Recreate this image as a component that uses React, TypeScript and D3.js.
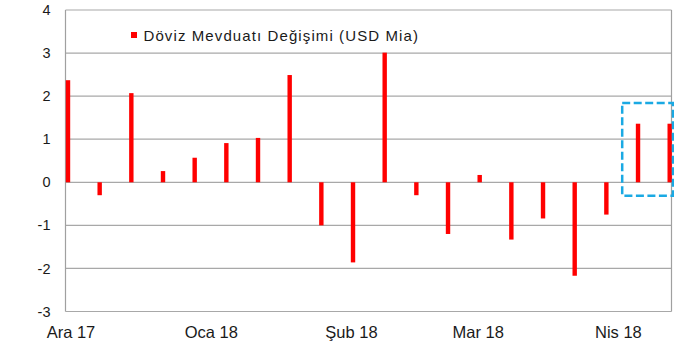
// @ts-nocheck
import React, { useRef, useEffect } from 'react';
import * as d3 from 'd3';

// weekly FX deposit change, USD bn
const weeks = [
  '2017-12-01', '2017-12-08', '2017-12-15', '2017-12-22', '2017-12-29',
  '2018-01-05', '2018-01-12', '2018-01-19', '2018-01-26', '2018-02-02',
  '2018-02-09', '2018-02-16', '2018-02-23', '2018-03-02', '2018-03-09',
  '2018-03-16', '2018-03-23', '2018-03-30', '2018-04-06', '2018-04-13',
];
const values = [
  2.37, -0.3, 2.07, 0.26, 0.57,
  0.91, 1.03, 2.49, -1.0, -1.86,
  3.01, -0.3, -1.2, 0.17, -1.33,
  -0.84, -2.17, -0.75, 1.36, 1.36,
];
const monthTicks = ['2017-12-01', '2018-01-01', '2018-02-01', '2018-03-01', '2018-04-01'];
const monthLabels = ['Ara 17', 'Oca 18', 'Şub 18', 'Mar 18', 'Nis 18'];
const yTicks = [-3, -2, -1, 0, 1, 2, 3, 4];
const seriesName = 'Döviz Mevduatı Değişimi (USD Mia)';
// highlighted last two weeks
const highlightWeeks = ['2018-04-06', '2018-04-13'];
const highlightRange = [-0.31, 1.84];

const W = 674;
const H = 353;
const FONT = '"Liberation Sans", Arial, sans-serif';

const App = () => {
  const svgRef = useRef(null);

  useEffect(() => {
    const svg = d3.select(svgRef.current);
    svg.selectAll('*').remove();

    const parse = d3.timeParse('%Y-%m-%d');
    const dates = weeks.map(parse);

    const x = d3.scaleTime()
      .domain(d3.extent(dates))
      .range([68, 669.7]);
    const y = d3.scaleLinear().domain([-3, 4]).range([311.5, 10]);

    const left = 65.5, right = 671.5;

    // gridlines
    svg.append('g')
      .selectAll('line')
      .data(yTicks)
      .enter().append('line')
      .attr('x1', left)
      .attr('x2', right)
      .attr('y1', d => y(d))
      .attr('y2', d => y(d))
      .attr('stroke', '#a8a8a8')
      .attr('stroke-width', 1.2);

    // side borders
    svg.append('line')
      .attr('x1', left).attr('x2', left)
      .attr('y1', y(4)).attr('y2', y(-3))
      .attr('stroke', '#a0a0a0').attr('stroke-width', 1.2);
    svg.append('line')
      .attr('x1', right).attr('x2', right)
      .attr('y1', y(4)).attr('y2', y(-3))
      .attr('stroke', '#a0a0a0').attr('stroke-width', 1.2);

    // y labels
    svg.append('g')
      .selectAll('text')
      .data(yTicks)
      .enter().append('text')
      .attr('x', 50.5)
      .attr('y', d => y(d))
      .attr('dy', '0.35em')
      .attr('text-anchor', 'end')
      .attr('font-family', FONT)
      .attr('font-size', 14.5)
      .attr('fill', '#1a1a1a')
      .text(d => d);

    // x labels
    svg.append('g')
      .selectAll('text')
      .data(monthTicks)
      .enter().append('text')
      .attr('x', d => x(parse(d)) + 3)
      .attr('y', 337.5)
      .attr('text-anchor', 'middle')
      .attr('font-family', FONT)
      .attr('font-size', 16.5)
      .attr('fill', '#1a1a1a')
      .text((d, i) => monthLabels[i]);

    // bars
    const bw = 4.4;
    svg.append('g')
      .selectAll('rect')
      .data(values)
      .enter().append('rect')
      .attr('x', (d, i) => x(dates[i]) - bw / 2)
      .attr('y', d => Math.min(y(d), y(0)))
      .attr('width', bw)
      .attr('height', d => Math.abs(y(d) - y(0)))
      .attr('fill', '#ff0000');

    // legend
    svg.append('rect')
      .attr('x', 131).attr('y', 32)
      .attr('width', 6).attr('height', 6)
      .attr('fill', '#ff0000');
    svg.append('text')
      .attr('x', 143.5)
      .attr('y', 40.7)
      .attr('font-family', FONT)
      .attr('font-size', 15)
      .attr('letter-spacing', 1.1)
      .attr('fill', '#1a1a1a')
      .text(seriesName);

    // dashed highlight box
    const halfWeek = (x(dates[1]) - x(dates[0])) / 2;
    const hx0 = x(parse(highlightWeeks[0])) - halfWeek;
    const hx1 = x(parse(highlightWeeks[1])) + 3.3;
    svg.append('rect')
      .attr('x', hx0)
      .attr('y', y(highlightRange[1]))
      .attr('width', hx1 - hx0)
      .attr('height', y(highlightRange[0]) - y(highlightRange[1]))
      .attr('fill', 'none')
      .attr('stroke', '#1aa9e3')
      .attr('stroke-width', 2.5)
      .attr('stroke-dasharray', '8 3.5');
  }, []);

  return (
    <svg
      ref={svgRef}
      width={W}
      height={H}
      style={{ position: 'absolute', left: 0, top: 0, background: '#fff' }}
    />
  );
};

export default App;
